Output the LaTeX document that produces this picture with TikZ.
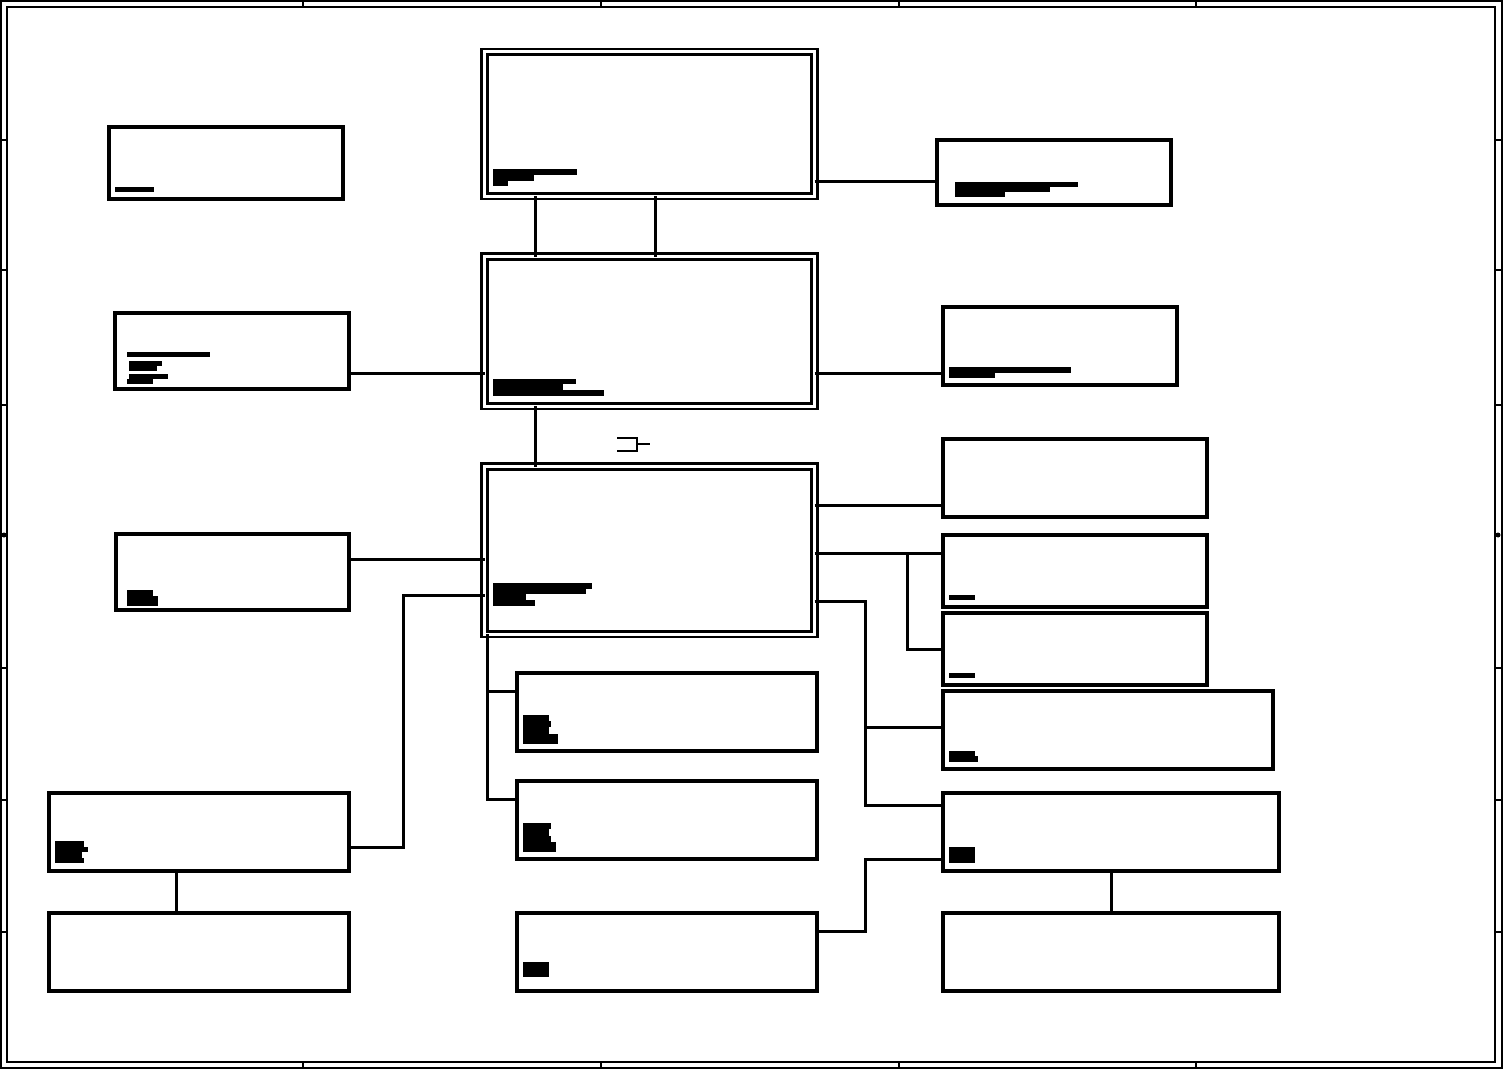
\documentclass[tikz,border=0pt]{standalone}
\begin{document}
\begin{tikzpicture}[x=1pt,y=-1pt,
  box/.style={draw,line width=3.4pt,inner sep=0pt,outer sep=0pt},
  dbox/.style={draw,double,line width=2.6pt,double distance=3pt,inner sep=0pt,outer sep=0pt},
  wire/.style={line width=3pt},
  frame/.style={line width=2.6pt}]
\useasboundingbox (0,0) rectangle (1512,1070);
\newcommand\bx[6][box]{\node[#1,minimum width={#5-#3},minimum height={#6-#4}] (#2) at ({(#3+#5)/2},{(#4+#6)/2}) {};}
\newcommand\tb[4]{\fill (#1,#2) rectangle (#3,#4);}
% frame
\draw[frame] (1,1) rectangle (1502,1068);
\draw[frame] (7,7) rectangle (1495,1062);
\foreach \x in {303,601,899,1196}{\draw[frame] (\x,1) -- (\x,7); \draw[frame] (\x,1062) -- (\x,1068);}
\foreach \y in {140,270,405,668,800,932}{\draw[frame] (1,\y) -- (7,\y); \draw[frame] (1495,\y) -- (1502,\y);}
\fill (4,535) circle (2.5); \fill (1498,535) circle (2.5);
% double boxes
\bx[dbox]{t1}{484.5}{52}{814.5}{196}
\bx[dbox]{t2}{484.5}{256.5}{814.5}{406}
\bx[dbox]{t3}{484.5}{466.5}{814.5}{634}
% plain boxes
\bx{tl}{109}{127}{343}{199}
\bx{tr}{937}{140}{1171}{205}
\bx{l2}{115}{313}{349}{389}
\bx{r2}{943}{307}{1177}{385}
\bx{l3}{116}{534}{349}{610}
\bx{bla}{49}{793}{349}{871}
\bx{blb}{49}{913}{349}{991}
\bx{cd}{517}{673}{817}{751}
\bx{ce}{517}{781}{817}{859}
\bx{cf}{517}{913}{817}{991}
\bx{r3}{943}{439}{1207}{517}
\bx{r4}{943}{535}{1207}{607}
\bx{r5}{943}{613}{1207}{685}
\bx{r6}{943}{691}{1273}{769}
\bx{r7}{943}{793}{1279}{871}
\bx{r8}{943}{913}{1279}{991}
% text bars
\tb{493}{169}{577}{175}\tb{493}{175}{534}{181}\tb{493}{181}{508}{186}
\tb{115}{187}{154}{192}
\tb{955}{182}{1078}{187}\tb{955}{187}{1050}{192}\tb{955}{192}{1005}{197}
\tb{493}{379}{576}{384}\tb{493}{384}{563}{390}\tb{493}{390}{604}{396}
\tb{127}{352}{210}{357}\tb{129}{361}{162}{366}\tb{129}{366}{157}{371}\tb{129}{374}{168}{379}\tb{127}{379}{153}{384}
\tb{949}{367}{1071}{373}\tb{949}{373}{995}{378}
\tb{493}{583}{592}{589}\tb{493}{589}{586}{594}\tb{493}{594}{526}{600}\tb{493}{600}{535}{606}
\tb{127}{590}{153}{596}\tb{127}{596}{158}{606}
\tb{55}{841}{84}{847}\tb{55}{847}{88}{852}\tb{55}{852}{82}{858}\tb{55}{858}{84}{863}
\tb{523}{715}{549}{721}\tb{523}{721}{551}{727}\tb{523}{727}{549}{734}\tb{523}{734}{558}{744}
\tb{523}{823}{551}{829}\tb{523}{829}{549}{836}\tb{523}{836}{551}{842}\tb{523}{842}{556}{852}
\tb{523}{962}{549}{977}
\tb{949}{595}{975}{600}
\tb{949}{673}{975}{678}
\tb{949}{751}{975}{756}\tb{949}{756}{978}{762}
\tb{949}{847}{975}{863}
% small symbol
\draw[line width=2.4pt] (617,438) -- (637,438) -- (637,451) -- (617,451);
\draw[line width=2.4pt] (637,444) -- (650,444);
% junction coordinates
\coordinate (ja) at (403,847);
\coordinate (jb) at (403,595);
\coordinate (jc) at (487,799);
\coordinate (jd) at (487,691);
\coordinate (je) at (907,553);
\coordinate (jf) at (907,649);
\coordinate (jg) at (865,601);
\coordinate (jh) at (865,805);
\coordinate (ji) at (865,727);
\coordinate (jj) at (865,931);
\coordinate (jk) at (865,859);
% connectors
\draw[wire] (t1.east |- 0,181) -- (tr.west |- 0,181);
\draw[wire] (t1.south -| 535,0) -- (t2.north -| 535,0);
\draw[wire] (t1.south -| 655,0) -- (t2.north -| 655,0);
\draw[wire] (l2.east |- 0,373) -- (t2.west |- 0,373);
\draw[wire] (t2.east |- 0,373) -- (r2.west |- 0,373);
\draw[wire] (t2.south -| 535,0) -- (t3.north -| 535,0);
\draw[wire] (l3.east |- 0,559) -- (t3.west |- 0,559);
\draw[wire] (bla.east |- ja) -- (ja) -- (jb) -- (t3.west |- jb);
\draw[wire] (bla.south -| 176,0) -- (blb.north -| 176,0);
\draw[wire] (t3.south -| jc) -- (jc) -- (ce.west |- jc);
\draw[wire] (jd) -- (cd.west |- jd);
\draw[wire] (t3.east |- 0,505) -- (r3.west |- 0,505);
\draw[wire] (t3.east |- je) -- (r4.west |- je);
\draw[wire] (je) -- (jf) -- (r5.west |- jf);
\draw[wire] (t3.east |- jg) -- (jg) -- (jh) -- (r7.west |- jh);
\draw[wire] (ji) -- (r6.west |- ji);
\draw[wire] (cf.east |- jj) -- (jj) -- (jk) -- (r7.west |- jk);
\draw[wire] (r7.south -| 1111,0) -- (r8.north -| 1111,0);
\end{tikzpicture}
\end{document}
